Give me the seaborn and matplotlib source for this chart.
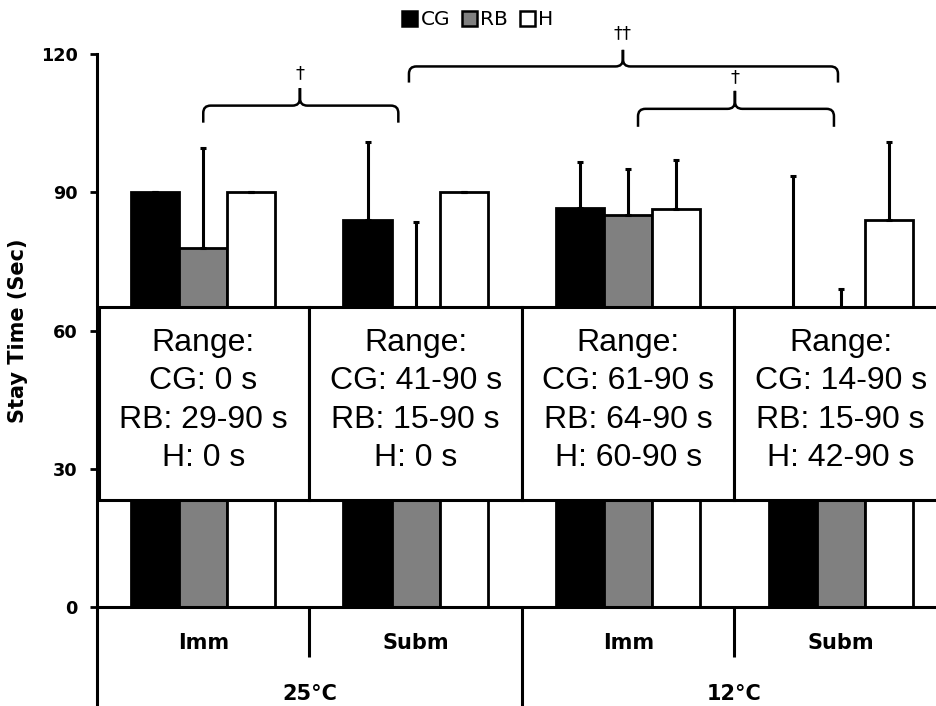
import numpy as np
import pandas as pd
import matplotlib
matplotlib.use('Agg')
import matplotlib.pyplot as plt
import matplotlib.transforms as mtransforms
from matplotlib.patches import Rectangle, Patch, PathPatch
from matplotlib.path import Path
import seaborn as sns

# data
temps = ['25°C', '12°C']
exposures = ['Imm', 'Subm', 'Imm', 'Subm']
groups = ['CG', 'RB', 'H']
group_colors = ['black', '#808080', 'white']

cg_mean = [90, 84, 86.5, 58]
cg_sd = [0, 17, 10, 35.5]
rb_mean = [78, 60, 85, 50]
rb_sd = [21.5, 23.5, 10, 19]
h_mean = [90, 90, 86.3, 84]
h_sd = [0, 0, 10.6, 17]

range_cg = ['0 s', '41-90 s', '61-90 s', '14-90 s']
range_rb = ['29-90 s', '15-90 s', '64-90 s', '15-90 s']
range_h = ['0 s', '0 s', '60-90 s', '42-90 s']

sig_marks = ['†', '††', '†']

conds = [f'{temps[i // 2]} {e}' for i, e in enumerate(exposures)]
df = pd.DataFrame({
    'cond': conds * 3,
    'group': np.repeat(groups, len(conds)),
    'value': cg_mean + rb_mean + h_mean,
})

sns.set_style('white')
plt.rcParams['font.family'] = ['DejaVu Sans']
plt.rcParams.update({'text.color': 'black', 'axes.labelcolor': 'black',
                     'axes.edgecolor': 'black', 'xtick.color': 'black', 'ytick.color': 'black'})

fig = plt.figure(figsize=(9.37, 7.06), dpi=100)
ax = fig.add_axes([97 / 937, 99 / 706, 850 / 937, 553 / 706])

sns.barplot(data=df, x='cond', y='value', hue='group', order=conds, hue_order=groups,
            palette=dict(zip(groups, group_colors)), edgecolor='black', linewidth=2,
            width=0.68, gap=0, errorbar=None, legend=False, ax=ax, zorder=1)

# one-sided (upper) SD bars
for cont, means, sds in zip(ax.containers, [cg_mean, rb_mean, h_mean], [cg_sd, rb_sd, h_sd]):
    xs = [p.get_x() + p.get_width() / 2 for p in cont.patches]
    ax.errorbar(xs, means, yerr=[np.zeros(len(sds)), sds], fmt='none', ecolor='black',
                elinewidth=2.2, capsize=2, capthick=2.2, zorder=2)

# range boxes covering the middle of the bars
for i in range(len(conds)):
    left = i - 0.49 if i == 0 else i - 0.5
    ax.add_patch(Rectangle((left, 23.2), i + 0.5 - left, 41.8, facecolor='white',
                           edgecolor='black', linewidth=2.2, zorder=3, clip_on=False))
    txt = f'Range:\nCG: {range_cg[i]}\nRB: {range_rb[i]}\nH: {range_h[i]}'
    ax.text(i, 44.8, txt, ha='center', va='center', fontsize=23, family='Liberation Sans',
            linespacing=1.37, zorder=4)


def brace(x0, x1, xm, y_line, y_end, y_peak, rx=0.035, ry=1.6):
    verts = [(x0, y_end), (x0, y_line - ry), (x0, y_line), (x0 + rx, y_line),
             (xm - rx, y_line), (xm, y_line), (xm, y_line + ry), (xm, y_peak),
             (xm, y_line + ry), (xm, y_line), (xm + rx, y_line),
             (x1 - rx, y_line), (x1, y_line), (x1, y_line - ry), (x1, y_end)]
    codes = [Path.MOVETO, Path.LINETO, Path.CURVE3, Path.CURVE3,
             Path.LINETO, Path.CURVE3, Path.CURVE3, Path.LINETO,
             Path.LINETO, Path.CURVE3, Path.CURVE3,
             Path.LINETO, Path.CURVE3, Path.CURVE3, Path.LINETO]
    ax.add_patch(PathPatch(Path(verts, codes), facecolor='none', edgecolor='black',
                           linewidth=1.8, clip_on=False, zorder=5))


# x0, x1, xm, line, end, peak, label
braces = [(0.0, 0.918, 0.455, 108.8, 105.1, 112.6, 115.8),
          (0.968, 2.987, 1.975, 117.3, 113.8, 120.9, 124.6),
          (2.046, 2.968, 2.502, 108.1, 104.2, 112.0, 115.0)]
for (x0, x1, xm, yl, ye, yp, yt), mark in zip(braces, sig_marks):
    brace(x0, x1, xm, yl, ye, yp)
    ax.text(xm, yt, mark, ha='center', va='center', fontsize=13, clip_on=False)

ax.set_xlim(-0.5, 3.5)
ax.set_ylim(0, 120)
ax.set_yticks([0, 30, 60, 90, 120])
ax.tick_params(axis='y', length=5, width=2, direction='out', pad=9, labelsize=12.7, left=True)
for lab in ax.get_yticklabels():
    lab.set_fontweight('bold')
ax.set_xticks(range(len(conds)))
ax.set_xticklabels([])
ax.tick_params(axis='x', length=0)
ax.set_xlabel('')
ax.set_ylabel('Stay Time (Sec)', fontsize=15, fontweight='bold')
ax.yaxis.set_label_coords(-0.081, 0.5)

for s in ['top', 'right']:
    ax.spines[s].set_visible(False)
for s in ['left', 'bottom']:
    ax.spines[s].set_linewidth(2.2)

# two-level category axis
blend = mtransforms.blended_transform_factory(ax.transData, ax.transAxes)
for i, e in enumerate(exposures):
    ax.text(i, -0.066, e, transform=blend, ha='center', va='center', fontsize=15,
            fontweight='bold')
for j, t in enumerate(temps):
    ax.text(2 * j + 0.5, -0.157, t, transform=blend, ha='center', va='center', fontsize=15,
            fontweight='bold')
for k in range(len(conds) + 1):
    depth = 0.2 if k % 2 == 0 else 0.09
    ax.plot([k - 0.5, k - 0.5], [0, -depth], transform=blend, color='black', linewidth=2.2,
            clip_on=False, solid_capstyle='butt')

handles = [Patch(facecolor=c, edgecolor='black', linewidth=1.8, label=g)
           for g, c in zip(groups, group_colors)]
fig.legend(handles=handles, loc='center', bbox_to_anchor=(0.51, 0.972), ncol=3, frameon=False,
           fontsize=14.5, handlelength=0.75, handleheight=0.75, handletextpad=0.15,
           columnspacing=0.6, borderpad=0)

fig.savefig('out.png', dpi=100)
